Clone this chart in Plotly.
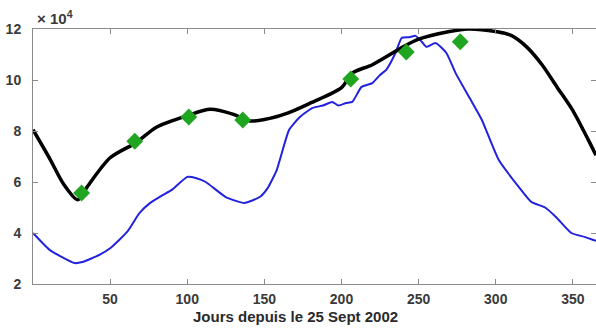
import plotly.graph_objects as go

# smoothed (black) curve, values in units of 1e4
smooth_days = [0, 11, 20, 29, 35, 50, 67, 80, 100, 115, 130, 140, 150, 165, 180, 200, 207,
               220, 240, 250, 270, 282, 300, 310, 320, 330, 340, 350, 360, 365]
smooth_vals = [8.05, 6.9, 5.9, 5.3, 5.8, 6.95, 7.55, 8.15, 8.6, 8.85, 8.65, 8.4, 8.45, 8.7,
               9.1, 9.7, 10.27, 10.6, 11.3, 11.6, 11.9, 12.0, 11.9, 11.75, 11.3, 10.6, 9.7,
               8.8, 7.65, 7.05]

# raw (blue) curve
raw_days = [0, 11, 27, 32, 43, 50, 61, 69, 76, 83, 90, 100, 106, 112, 125, 137, 147, 152,
            158, 166, 173, 181, 188, 194, 198, 203, 207, 213, 220, 225, 229, 235, 239, 244,
            248, 252, 255, 261, 268, 274, 283, 291, 302, 315, 323, 332, 339, 349, 358, 365]
raw_vals = [4.0, 3.33, 2.82, 2.86, 3.14, 3.4, 4.04, 4.78, 5.18, 5.45, 5.69, 6.2, 6.15, 6.0,
            5.41, 5.18, 5.41, 5.75, 6.47, 8.04, 8.55, 8.9, 9.0, 9.14, 9.0, 9.1, 9.14, 9.73,
            9.88, 10.2, 10.4, 11.06, 11.65, 11.68, 11.73, 11.5, 11.3, 11.45, 11.06, 10.27,
            9.3, 8.43, 6.86, 5.8, 5.22, 5.0, 4.63, 4.0, 3.84, 3.69]

# green diamond observations
obs_days = [31.5, 66, 101, 136, 206, 242, 277]
obs_vals = [5.57, 7.6, 8.55, 8.43, 10.04, 11.1, 11.5]

x_ticks = [50, 100, 150, 200, 250, 300, 350]
y_ticks = [2, 4, 6, 8, 10, 12]

fig = go.Figure()

fig.add_trace(go.Scatter(x=raw_days, y=raw_vals, mode="lines",
                         line=dict(color="#2222dd", width=2, shape="spline", smoothing=0.5)))
fig.add_trace(go.Scatter(x=smooth_days, y=smooth_vals, mode="lines",
                         line=dict(color="black", width=3.5, shape="spline", smoothing=0.8)))
fig.add_trace(go.Scatter(x=obs_days, y=obs_vals, mode="markers",
                         marker=dict(symbol="diamond", size=13, color="#1fa51f")))

axis_common = dict(
    showline=True, linecolor="#8a8a8a", linewidth=1, mirror="ticks",
    ticks="inside", ticklen=5, tickcolor="#8a8a8a",
    showgrid=False, zeroline=False, automargin=False,
    tickfont=dict(family="Liberation Sans", size=14, color="#3a3a3a", weight="bold"),
)

fig.update_xaxes(range=[0, 365], tickvals=x_ticks, ticklabelstandoff=2, **axis_common)
fig.update_yaxes(range=[2, 12], tickvals=y_ticks, ticklabelstandoff=8, **axis_common)

fig.add_annotation(text="× 10<sup>4</sup>", xref="paper", yref="paper", x=0.003, y=1.0,
                   xanchor="left", yanchor="bottom", showarrow=False,
                   font=dict(family="Liberation Sans", size=15, color="#3a3a3a", weight="bold"))
fig.add_annotation(text="Jours depuis le 25 Sept 2002", xref="paper", yref="paper",
                   x=(295 - 33) / 563, y=-(316 - 284) / 255, xanchor="center", yanchor="middle",
                   showarrow=False,
                   font=dict(family="Liberation Sans", size=15, color="#2a2a2a", weight="bold"))

fig.update_layout(
    width=596, height=329,
    margin=dict(l=33, r=0, t=29, b=45),
    showlegend=False,
    paper_bgcolor="white",
    plot_bgcolor="white",
)

# drop the page's default body margin so the figure fills the window
fig.write_html("out.html", config={"displayModeBar": False},
               post_script="document.body.style.margin='0';")
